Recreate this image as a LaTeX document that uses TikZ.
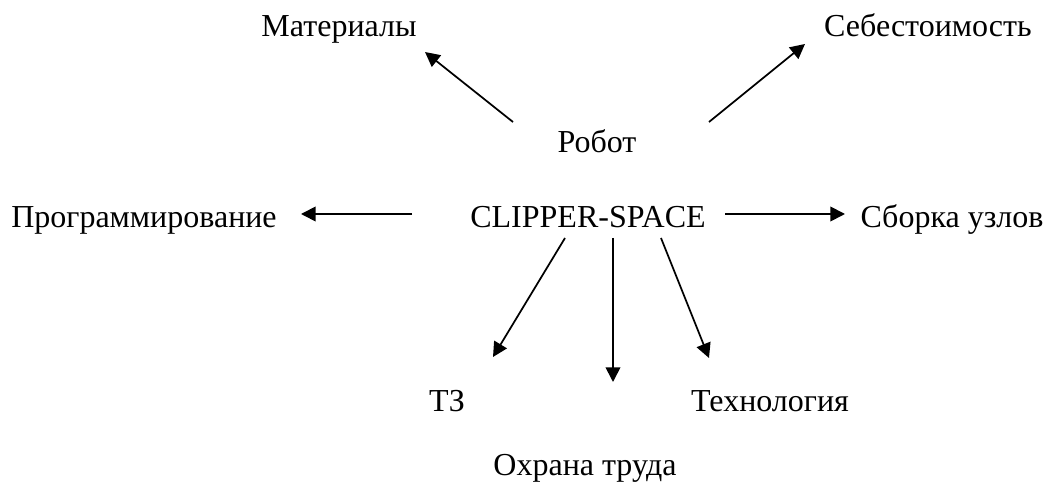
\documentclass[tikz,border=0pt]{standalone}
\usepackage{fontspec}
\setmainfont{Liberation Serif}
\usepackage{tikz}
\usetikzlibrary{arrows.meta}
\newcommand{\slovo}[4]{\node[word] (#1) at ( #2 , #3 ) {#4};}
\newcommand{\strelka}[2]{\draw[arr] (#1) -- (#2);}

\begin{document}
\begin{tikzpicture}[x=0.75pt,y=-0.75pt,
    word/.style={anchor=base,inner sep=0pt,font=\fontsize{24}{28}\selectfont},
    arr/.style={line width=1.3pt,-{Triangle[length=11pt,width=11pt]}}]
        \useasboundingbox (0,0) rectangle (1047,491);

        % texts
        \slovo{mat}{339}{37}{Материалы}
        \slovo{seb}{928}{37}{Себестоимость}
        \slovo{rob}{597}{153}{Робот}
        \slovo{cs}{588}{228}{CLIPPER-SPACE}
        \slovo{prog}{144}{228}{Программирование}
        \slovo{sbor}{952}{228}{Сборка узлов}
        \slovo{tz}{447}{412}{ТЗ}
        \slovo{teh}{770}{412}{Технология}
        \slovo{ohr}{585}{476}{Охрана труда}

        % arrow ends
        \coordinate (a1) at (513,122); \coordinate (b1) at (425,52);
        \coordinate (a2) at (709,122); \coordinate (b2) at (805,44);
        \coordinate (a3) at (412,214); \coordinate (b3) at (301,214);
        \coordinate (a4) at (725,214); \coordinate (b4) at (845,214);
        \coordinate (a5) at (565,238); \coordinate (b5) at (493,357);
        \coordinate (a6) at (613,238); \coordinate (b6) at (613,382);
        \coordinate (a7) at (661,238); \coordinate (b7) at (709,358);

        % arrows
        \strelka{a1}{b1}
        \strelka{a2}{b2}
        \strelka{a3}{b3}
        \strelka{a4}{b4}
        \strelka{a5}{b5}
        \strelka{a6}{b6}
        \strelka{a7}{b7}

    \end{tikzpicture}
\end{document}
